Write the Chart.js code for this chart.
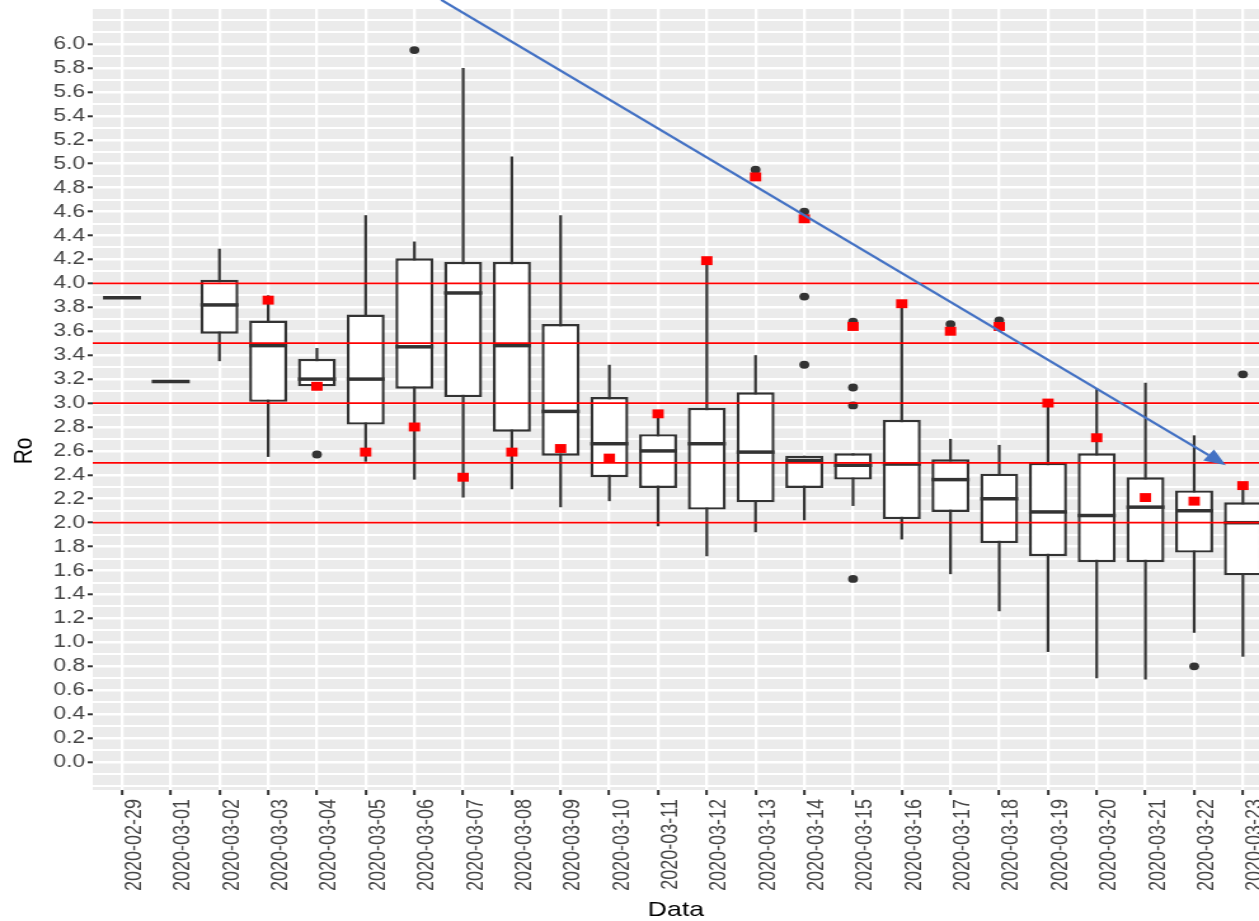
<!DOCTYPE html>
<html><head><meta charset="utf-8">
<script src="https://cdn.jsdelivr.net/npm/chart.js@4"></script>
<style>html,body{margin:0;padding:0;background:#fff;overflow:hidden}canvas{display:block}</style>
</head><body>
<canvas id="c" width="991" height="921" style="width:1259px;height:921px"></canvas>
<script>
const dates = ['2020-02-29','2020-03-01','2020-03-02','2020-03-03','2020-03-04','2020-03-05','2020-03-06','2020-03-07','2020-03-08','2020-03-09','2020-03-10','2020-03-11','2020-03-12','2020-03-13','2020-03-14','2020-03-15','2020-03-16','2020-03-17','2020-03-18','2020-03-19','2020-03-20','2020-03-21','2020-03-22','2020-03-23'];
const q1          = [3.88,3.18,3.58,3.01,3.14,2.82,3.12,3.05,2.76,2.56,2.38,2.29,2.11,2.17,2.29,2.36,2.03,2.09,1.83,1.72,1.67,1.67,1.75,1.56];
const median      = [3.88,3.18,3.82,3.48,3.20,3.20,3.47,3.92,3.48,2.93,2.66,2.60,2.66,2.59,2.52,2.48,2.49,2.36,2.20,2.09,2.06,2.13,2.10,2.00];
const q3          = [3.88,3.18,4.03,3.69,3.37,3.74,4.21,4.18,4.18,3.66,3.05,2.74,2.96,3.09,2.56,2.58,2.86,2.53,2.41,2.50,2.58,2.38,2.27,2.17];
const whiskerLow  = [3.88,3.18,3.35,2.55,3.14,2.51,2.36,2.21,2.28,2.13,2.18,1.97,1.72,1.92,2.02,2.14,1.86,1.57,1.26,0.92,0.70,0.69,1.08,0.88];
const whiskerHigh = [3.88,3.18,4.29,3.90,3.46,4.57,4.35,5.80,5.06,4.57,3.32,2.93,4.21,3.40,2.56,2.58,3.84,2.70,2.65,3.02,3.12,3.17,2.73,2.34];
const means       = [null,null,null,3.86,3.14,2.59,2.80,2.38,2.59,2.62,2.54,2.91,4.19,4.89,4.54,3.64,3.83,3.60,3.64,3.00,2.71,2.21,2.18,2.31];
const outliers    = [[],[],[],[],[2.57],[],[5.95],[],[],[],[],[],[],[4.95],[4.60,3.89,3.32],[3.68,3.13,2.98,1.53],[],[3.66],[3.69],[],[],[],[0.80],[3.24]];
const yTickLabels = ['0.0','0.2','0.4','0.6','0.8','1.0','1.2','1.4','1.6','1.8','2.0','2.2','2.4','2.6','2.8','3.0','3.2','3.4','3.6','3.8','4.0','4.2','4.4','4.6','4.8','5.0','5.2','5.4','5.6','5.8','6.0'];
const refLines = [2.0, 2.5, 3.0, 3.5, 4.0];
const arrowStart = [6.55, 6.37];
const arrowEnd = [22.65, 2.48];

const FONT = "'Liberation Sans', Arial, sans-serif";
const labelFor = v => yTickLabels.find(l => Math.abs(parseFloat(l) - v) < 1e-6);

const bgPlugin = {
  id: 'panelBg',
  beforeDraw(chart) {
    const {ctx, chartArea: a} = chart;
    ctx.save(); ctx.fillStyle = '#EBEBEB';
    ctx.fillRect(a.left, a.top, a.right - a.left, a.bottom - a.top);
    ctx.restore();
  }
};
const overlayPlugin = {
  id: 'overlay',
  afterDatasetsDraw(chart) {
    const {ctx, chartArea: a, scales: {y}} = chart;
    ctx.save(); ctx.strokeStyle = '#FF0000'; ctx.lineWidth = 1.8;
    refLines.forEach(v => {
      const py = y.getPixelForValue(v);
      ctx.beginPath(); ctx.moveTo(a.left, py); ctx.lineTo(a.right, py); ctx.stroke();
    });
    ctx.restore();
  },
  afterDraw(chart) {
    const {ctx, scales: {x, y}} = chart;
    const x0 = x.getPixelForValue(arrowStart[0]), y0 = y.getPixelForValue(arrowStart[1]);
    const x1 = x.getPixelForValue(arrowEnd[0]), y1 = y.getPixelForValue(arrowEnd[1]);
    const ang = Math.atan2(y1 - y0, x1 - x0);
    const L = 17, W = 7;
    const bx = x1 - Math.cos(ang) * L, by = y1 - Math.sin(ang) * L;
    ctx.save();
    ctx.strokeStyle = '#4472C4'; ctx.fillStyle = '#4472C4'; ctx.lineWidth = 2.2;
    ctx.beginPath(); ctx.moveTo(x0, y0); ctx.lineTo(bx, by); ctx.stroke();
    ctx.beginPath(); ctx.moveTo(x1, y1);
    ctx.lineTo(bx + Math.sin(ang) * W, by - Math.cos(ang) * W);
    ctx.lineTo(bx - Math.sin(ang) * W, by + Math.cos(ang) * W);
    ctx.closePath(); ctx.fill();
    ctx.restore();
    ctx.save();
    ctx.translate(19, y.getPixelForValue(2.6));
    ctx.rotate(-Math.PI / 2);
    ctx.font = '21px ' + FONT; ctx.fillStyle = '#000';
    ctx.textAlign = 'center'; ctx.textBaseline = 'middle';
    ctx.fillText('Ro', 0, 0);
    ctx.restore();
  }
};

const outlierPts = [];
outliers.forEach((arr, i) => arr.forEach(v => outlierPts.push({x: i, y: v})));

new Chart(document.getElementById('c'), {
  type: 'bar',
  data: {
    datasets: [
      { type: 'bar', label: 'whiskers', order: 6, grouped: false, maxBarThickness: 2.2,
        backgroundColor: '#333333', borderWidth: 0,
        data: dates.map((d, i) => ({x: i, y: [whiskerLow[i], whiskerHigh[i]]})) },
      { type: 'bar', label: 'boxes', order: 5, grouped: false, barPercentage: 0.78, categoryPercentage: 1,
        backgroundColor: '#FFFFFF', borderColor: '#333333', borderWidth: 2.4, borderSkipped: false,
        data: dates.map((d, i) => ({x: i, y: [q1[i], q3[i]]})) },
      { type: 'scatter', label: 'median', order: 4, pointStyle: 'line', borderColor: '#333333', borderWidth: 3.5,
        radius: c => { const xs = c.chart.scales.x; return xs.getPixelForValue(0.39) - xs.getPixelForValue(0); },
        data: dates.map((d, i) => ({x: i, y: median[i]})) },
      { type: 'scatter', label: 'outliers', order: 3, pointStyle: 'circle', radius: 3.9,
        backgroundColor: '#333333', borderWidth: 0, data: outlierPts },
      { type: 'scatter', label: 'mean', order: 2, pointStyle: 'rect', radius: 6.3,
        backgroundColor: '#FF0000', borderWidth: 0,
        data: dates.map((d, i) => ({x: i, y: means[i]})).filter(p => p.y !== null) }
    ]
  },
  options: {
    responsive: false, animation: false, devicePixelRatio: 1, events: [],
    layout: { autoPadding: false, padding: { top: 7, left: 0, right: 0, bottom: 0 } },
    plugins: { legend: { display: false }, tooltip: { enabled: false } },
    scales: {
      x: {
        type: 'linear', min: -0.6, max: 23.33, bounds: 'data', offset: false,
        afterBuildTicks: s => { s.ticks = dates.map((d, i) => ({value: i})); },
        afterFit: s => { s.height = 131; s.paddingLeft = 0; s.paddingRight = 0; },
        ticks: { autoSkip: false, minRotation: 90, maxRotation: 90, labelOffset: 10, padding: 4,
          color: '#444444', font: { family: FONT, size: 18 }, callback: v => dates[v] ?? '' },
        grid: { offset: false, color: '#FFFFFF', lineWidth: 2.3, tickLength: 5, tickColor: '#333333', tickWidth: 2 },
        border: { display: false },
        title: { display: true, text: 'Data', color: '#000000', font: { family: FONT, size: 21, lineHeight: 1 }, padding: { top: 0, bottom: 0 } }
      },
      y: {
        type: 'linear', min: -0.234, max: 6.31, bounds: 'data', beginAtZero: false,
        afterBuildTicks: s => { const t = []; for (let k = -2; k <= 63; k++) t.push({value: k / 10}); s.ticks = t; },
        afterFit: s => { s.width = 73; s.paddingTop = 0; s.paddingBottom = 0; },
        ticks: { autoSkip: false, padding: 2, color: '#444444', font: { family: FONT, size: 18 },
          callback: v => labelFor(v) ?? '' },
        grid: { color: '#FFFFFF', lineWidth: c => labelFor(c.tick.value) ? 2.6 : 2, tickLength: 4,
          tickColor: c => labelFor(c.tick.value) ? '#333333' : 'rgba(0,0,0,0)', tickWidth: 2 },
        border: { display: false }
      }
    }
  },
  plugins: [bgPlugin, overlayPlugin]
});
</script>
</body></html>
